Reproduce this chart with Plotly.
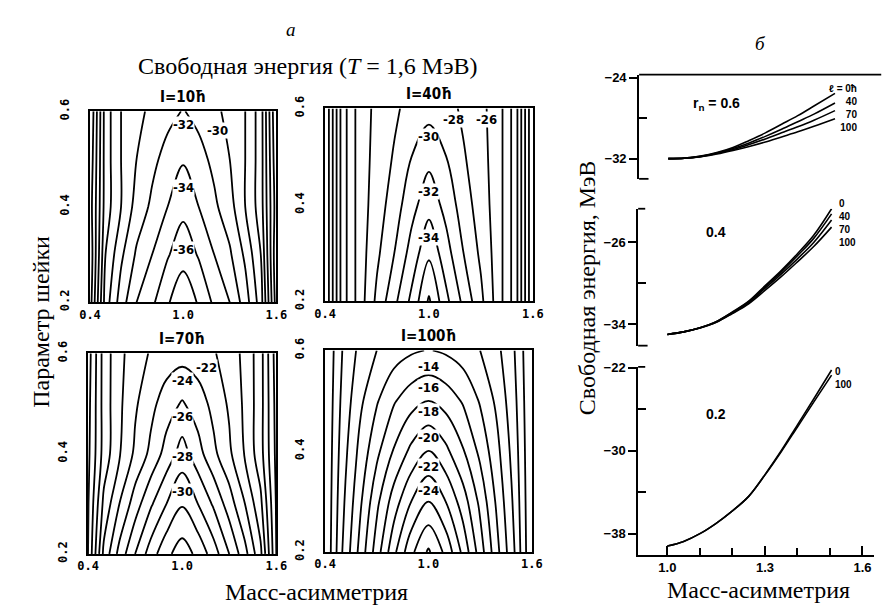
import plotly.graph_objects as go

W, H = 892, 615

# ---------------- data: contour maps (panel "а") ----------------
mass_asym = [0.4, 0.5, 0.6, 0.7, 0.8, 0.9, 1.0, 1.1, 1.2, 1.3, 1.4, 1.5, 1.6]
neck = [0.2, 0.3, 0.4, 0.5, 0.6]

E_I10 = [
    [-17.0, -27.0, -31.0, -34.0, -35.6, -37.8, -39.3, -37.8, -35.6, -34.0, -31.0, -27.0, -17.0],
    [-16.5, -26.0, -29.6, -32.3, -34.0, -35.8, -37.3, -35.8, -34.0, -32.3, -29.6, -26.0, -16.5],
    [-17.0, -25.0, -28.0, -30.8, -32.4, -34.0, -35.4, -34.0, -32.4, -30.8, -28.0, -25.0, -17.0],
    [-16.5, -25.0, -28.0, -30.0, -31.5, -32.7, -33.8, -32.7, -31.5, -30.0, -28.0, -25.0, -16.5],
    [-16.0, -25.0, -28.0, -29.4, -30.5, -31.4, -32.1, -31.4, -30.5, -29.4, -28.0, -25.0, -16.0],
]
E_I40 = [
    [-12.0, -21.0, -25.0, -28.5, -31.5, -34.5, -38.3, -34.5, -31.5, -28.5, -25.0, -21.0, -12.0],
    [-12.0, -21.0, -25.0, -27.6, -30.0, -32.8, -35.6, -32.8, -30.0, -27.6, -25.0, -21.0, -12.0],
    [-12.0, -21.0, -25.0, -27.0, -29.0, -31.3, -33.3, -31.3, -29.0, -27.0, -25.0, -21.0, -12.0],
    [-12.0, -21.0, -25.0, -26.7, -28.2, -30.0, -31.4, -30.0, -28.2, -26.7, -25.0, -21.0, -12.0],
    [-12.0, -21.0, -25.0, -26.5, -27.6, -28.8, -29.3, -28.8, -27.6, -26.5, -25.0, -21.0, -12.0],
]
E_I70 = [
    [-12.0, -20.5, -24.7, -28.0, -31.0, -33.5, -35.0, -33.5, -31.0, -28.0, -24.7, -20.5, -12.0],
    [-11.8, -18.5, -22.0, -25.0, -27.7, -30.0, -31.8, -30.0, -27.7, -25.0, -22.0, -18.5, -11.8],
    [-11.5, -16.8, -19.8, -22.4, -24.5, -26.8, -28.9, -26.8, -24.5, -22.4, -19.8, -16.8, -11.5],
    [-11.3, -16.8, -19.6, -21.7, -23.4, -25.0, -26.2, -25.0, -23.4, -21.7, -19.6, -16.8, -11.3],
    [-11.0, -16.8, -19.5, -21.0, -22.2, -22.9, -23.2, -22.9, -22.2, -21.0, -19.5, -16.8, -11.0],
]
E_I100 = [
    [-4.0, -10.0, -14.5, -19.0, -23.5, -27.5, -30.3, -27.5, -23.5, -19.0, -14.5, -10.0, -4.0],
    [-4.0, -9.5, -13.5, -17.5, -21.0, -24.0, -26.0, -24.0, -21.0, -17.5, -13.5, -9.5, -4.0],
    [-4.0, -9.0, -12.5, -15.5, -18.2, -20.5, -22.1, -20.5, -18.2, -15.5, -12.5, -9.0, -4.0],
    [-4.0, -8.5, -11.5, -13.8, -15.8, -17.2, -18.0, -17.2, -15.8, -13.8, -11.5, -8.5, -4.0],
    [-4.0, -8.0, -10.5, -12.0, -13.0, -13.7, -14.1, -13.7, -13.0, -12.0, -10.5, -8.0, -4.0],
]
panel_titles = ["I=10ħ", "I=40ħ", "I=70ħ", "I=100ħ"]

# contour labels: (text, x, y)
labels_I10 = [("-32", 1.0, 0.572), ("-30", 1.22, 0.56), ("-34", 1.0, 0.44), ("-36", 1.0, 0.31)]
labels_I40 = [("-30", 1.0, 0.542), ("-32", 1.0, 0.428), ("-34", 1.0, 0.332), ("-28", 1.14, 0.578), ("-26", 1.33, 0.578)]
labels_I70 = [("-22", 1.154, 0.571), ("-24", 1.0, 0.545), ("-26", 1.0, 0.474), ("-28", 1.0, 0.394), ("-30", 1.0, 0.324)]
labels_I100 = [("-14", 1.0, 0.568), ("-16", 1.0, 0.527), ("-18", 1.0, 0.479), ("-20", 1.0, 0.428), ("-22", 1.0, 0.370), ("-24", 1.0, 0.322)]

# ---------------- data: free energy curves (panel "б") ----------------
asym_06 = [1.0, 1.05, 1.1, 1.15, 1.2, 1.25, 1.3, 1.35, 1.4, 1.45, 1.515]
F06 = {
    "0": [-32.0, -31.95, -31.75, -31.4, -30.9, -30.2, -29.45, -28.6, -27.75, -26.8, -25.55],
    "40": [-32.0, -31.95, -31.78, -31.45, -31.0, -30.45, -29.8, -29.1, -28.35, -27.6, -26.5],
    "70": [-32.0, -31.96, -31.8, -31.5, -31.1, -30.6, -30.05, -29.45, -28.85, -28.2, -27.25],
    "100": [-32.0, -31.96, -31.82, -31.55, -31.2, -30.8, -30.35, -29.85, -29.35, -28.8, -28.05],
}
asym_04 = [1.0, 1.05, 1.1, 1.15, 1.2, 1.25, 1.3, 1.35, 1.4, 1.45, 1.505]
F04 = {
    "0": [-35.0, -34.75, -34.35, -33.75, -32.8, -31.75, -30.25, -28.75, -27.1, -25.3, -22.7],
    "40": [-35.0, -34.75, -34.35, -33.75, -32.85, -31.8, -30.35, -28.9, -27.3, -25.6, -23.2],
    "70": [-35.0, -34.75, -34.37, -33.8, -32.9, -31.9, -30.5, -29.1, -27.6, -26.0, -23.8],
    "100": [-35.0, -34.75, -34.38, -33.82, -32.95, -32.0, -30.7, -29.35, -27.9, -26.4, -24.5],
}
asym_02 = [1.0, 1.05, 1.1, 1.15, 1.2, 1.25, 1.3, 1.35, 1.4, 1.45, 1.505]
F02 = {
    "0": [-39.2, -38.75, -38.0, -37.0, -35.8, -34.4, -32.3, -30.0, -27.5, -25.0, -22.2],
    "100": [-39.2, -38.75, -38.0, -37.0, -35.8, -34.4, -32.35, -30.1, -27.7, -25.3, -22.7],
}
# curve-end label blocks: (lines, x (data), y (axis domain), x-anchor)
end_block_06 = (["ℓ = 0ħ", "40", "70", "100"], 1.59, 0.935, "right")
end_block_04 = (["0", "40", "70", "100"], 1.522, 1.09, "left")
end_block_02 = (["0", "100"], 1.51, 1.015, "left")
neck_texts = ["r<sub>n</sub> = 0.6", "0.4", "0.2"]
neck_text_pos = [(0.22, 0.82), (0.28, 0.90), (0.28, 0.80)]

# ---------------- layout geometry (pixels) ----------------
def px_x(x0, x1):
    return [x0 / W, x1 / W]

def px_y(y_top, y_bot):
    return [1 - y_bot / H, 1 - y_top / H]

left_boxes = [  # (x0, x1, ytop, ybot)
    (81, 272, 102, 300),
    (322, 535, 99, 299),
    (79, 272, 353, 561),
    (322, 534, 350, 559),
]
right_boxes = [
    (644, 885, 64, 172),
    (643, 885, 203, 345),
    (643, 885, 367, 562),
]
right_yranges = [[-34.0, -23.7], [-36.1, -22.7], [-40.05, -21.9]]
right_major = [[-24, -32], [-26, -34], [-22, -30, -38]]
right_minor = [[-28], [-30], [-26, -34]]
right_xrange = [0.91, 1.636]

fig = go.Figure()
mono = dict(family="DejaVu Sans Mono", size=12, color="black")
sans = dict(family="Liberation Sans", size=13, color="black")
serif = dict(family="Liberation Serif", size=24, color="black")

grids = [E_I10, E_I40, E_I70, E_I100]
all_labels = [labels_I10, labels_I40, labels_I70, labels_I100]
annotations = []
shapes = []

for i, (grid, box) in enumerate(zip(grids, left_boxes)):
    n = i + 1
    xa = "x" if n == 1 else f"x{n}"
    ya = "y" if n == 1 else f"y{n}"
    fig.add_trace(go.Contour(
        x=mass_asym, y=neck, z=grid,
        contours=dict(start=-40, end=-2, size=2, coloring="none"),
        line=dict(color="black", width=1.8, smoothing=1.0),
        showscale=False, hoverinfo="skip",
        xaxis=xa, yaxis=ya,
    ))
    x0, x1, yt, yb = box
    fig.layout[f"xaxis{n}"] = dict(
        domain=px_x(x0, x1), anchor=ya, range=[0.4, 1.6],
        tickvals=[0.4, 1.0, 1.6], ticktext=["0.4", "1.0", "1.6"],
        ticks="", showline=True, mirror=True, linecolor="black", linewidth=1.8,
        showgrid=False, zeroline=False, tickfont=dict(mono, weight="bold"),
    )
    fig.layout[f"yaxis{n}"] = dict(
        domain=px_y(yt, yb), anchor=xa, range=[0.2, 0.6],
        tickvals=[0.2, 0.4, 0.6], ticktext=["0.2", "0.4", "0.6"], tickangle=-90,
        ticks="", ticklabelstandoff=14,
        showline=True, mirror=True, linecolor="black", linewidth=1.8,
        showgrid=False, zeroline=False, tickfont=dict(mono, weight="bold"),
    )
    annotations.append(dict(
        text=f"<b>{panel_titles[i]}</b>", x=1.0, y=1.0, xref=xa, yref=f"{ya} domain",
        yanchor="bottom", yshift=3, showarrow=False,
        font=dict(family="DejaVu Sans Condensed", size=15, color="black"),
    ))
    for t, lx, ly in all_labels[i]:
        annotations.append(dict(
            text=f"<b>{t}</b>", x=lx, y=ly, xref=xa, yref=ya, showarrow=False,
            font=dict(family="DejaVu Sans Condensed", size=13, color="black"),
            bgcolor="white", borderpad=0,
        ))

curve_sets = [(asym_06, F06, end_block_06), (asym_04, F04, end_block_04), (asym_02, F02, end_block_02)]
for j, ((xs, fam, block), box) in enumerate(zip(curve_sets, right_boxes)):
    n = 5 + j
    xa, ya = f"x{n}", f"y{n}"
    for key, vals in fam.items():
        fig.add_trace(go.Scatter(
            x=xs, y=vals, mode="lines", line=dict(color="black", width=1.6, shape="spline"),
            hoverinfo="skip", showlegend=False, xaxis=xa, yaxis=ya,
        ))
    x0, x1, yt, yb = box
    bottom = (j == 2)
    fig.layout[f"xaxis{n}"] = dict(
        domain=px_x(x0, x1), anchor=ya, range=right_xrange,
        showline=bottom, linecolor="black", linewidth=1.8,
        tickvals=[1.0, 1.3, 1.6] if bottom else [], ticktext=["1.0", "1.3", "1.6"] if bottom else [],
        ticks="inside" if bottom else "",
        ticklen=9, tickwidth=1.6, tickcolor="black",
        minor=dict(tickmode="array", tickvals=[1.1, 1.2, 1.4, 1.5], ticks="inside" if bottom else "",
                   ticklen=7, tickwidth=1.6, tickcolor="black"),
        showticklabels=bottom, showgrid=False, zeroline=False,
        tickfont=dict(sans, weight="bold"),
    )
    fig.layout[f"yaxis{n}"] = dict(
        domain=px_y(yt, yb), anchor=xa, range=right_yranges[j],
        tickvals=right_major[j], ticks="outside", ticklen=8, tickwidth=1.6, tickcolor="black",
        minor=dict(tickmode="array", tickvals=right_minor[j], ticks="inside",
                   ticklen=8, tickwidth=1.6, tickcolor="black"),
        showline=True, linecolor="black", linewidth=1.8,
        showgrid=False, zeroline=False, tickfont=dict(sans, weight="bold"),
    )
    m = 8 + j
    fig.layout[f"yaxis{m}"] = dict(
        overlaying=ya, anchor=xa, side="right", range=right_yranges[j],
        tickvals=right_major[j] + right_minor[j], ticks="outside", ticklen=6, tickwidth=1.6,
        tickcolor="black", showticklabels=False, showline=False, showgrid=False, zeroline=False,
    )
    lines, bx, by, banchor = block
    annotations.append(dict(
        text="<br>".join(f"<b>{t}</b>" for t in lines), x=bx, y=by, xref=xa, yref=f"{ya} domain",
        xanchor=banchor, yanchor="top", align=banchor, showarrow=False,
        font=dict(family="Liberation Sans", size=10, color="black"),
    ))
    tx, ty = neck_text_pos[j]
    annotations.append(dict(
        text=f"<b>{neck_texts[j]}</b>", x=tx, y=ty, xref=f"{xa} domain", yref=f"{ya} domain",
        showarrow=False, font=dict(family="Liberation Sans", size=14, color="black"),
    ))
    if j == 0:
        shapes.append(dict(type="line", xref=f"{xa} domain", yref=f"{ya} domain",
                           x0=0, x1=1.03, y0=1, y1=1, line=dict(color="black", width=1.8)))
    else:
        shapes.append(dict(type="line", xref=f"{xa} domain", yref=f"{ya} domain",
                           x0=0, x1=0.03, y0=1, y1=1, line=dict(color="black", width=1.8)))
    if j < 2:
        shapes.append(dict(type="line", xref=f"{xa} domain", yref=f"{ya} domain",
                           x0=0, x1=0.04, y0=0, y1=0, line=dict(color="black", width=1.8)))

def paper(px, py):
    return px / W, 1 - py / H

for text, (px, py), ang, fnt in [
    ("<i>а</i>", (287, 17), 0, dict(serif, size=19)),
    ("<i>б</i>", (768, 32), 0, dict(serif, size=19)),
    ("Свободная энергия (<i>T</i> = 1,6 МэВ)", (305, 55), 0, serif),
    ("Параметр шейки", (30, 320), -90, serif),
    ("Масс-асимметрия", (313, 600), 0, serif),
    ("Масс-асимметрия", (766, 598), 0, serif),
    ("Свободная энергия, МэВ", (590, 285), -90, serif),
]:
    x, y = paper(px, py)
    annotations.append(dict(text=text, x=x, y=y, xref="paper", yref="paper", showarrow=False,
                            textangle=ang, font=fnt, xanchor="center", yanchor="middle"))

fig.update_layout(
    width=W, height=H, margin=dict(l=0, r=0, t=0, b=0),
    paper_bgcolor="white", plot_bgcolor="white", showlegend=False,
    annotations=annotations, shapes=shapes,
    font=dict(color="black"),
)
fig.write_html("out.html")
